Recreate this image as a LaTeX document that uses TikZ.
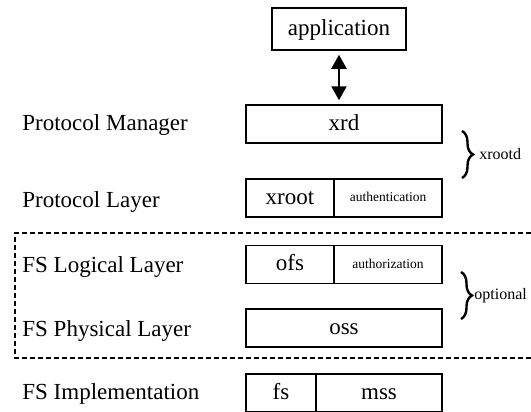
\documentclass[tikz,border=0pt]{standalone}
\usepackage{fontspec}
\setmainfont{Liberation Serif}
\usetikzlibrary{arrows.meta}
\usetikzlibrary{decorations.pathreplacing}

\begin{document}
\begin{tikzpicture}[x=0.5pt, y=-0.5pt]
\tikzstyle{box}=[draw, line width=0.75pt, minimum height=19pt, inner sep=0pt, text height=7.6pt, text depth=1.6pt, font=\fontsize{11.5}{13}\selectfont]
\tikzstyle{small}=[text height=4.6pt, text depth=1pt, font=\fontsize{6.75}{8}\selectfont]
\tikzstyle{layer}=[anchor=west, inner sep=0pt, font=\fontsize{11.5}{13}\selectfont]
\tikzstyle{group}=[decorate, decoration={brace, amplitude=5.5pt}, line width=1.2pt]
\useasboundingbox (0,0) rectangle (531,412);

\node[box, minimum width=67pt, minimum height=21pt] (app) at (339,29) {application};
\node[box, minimum width=98pt] (xrd) at (344,124) {xrd};
\node[box, minimum width=44pt] (xroot) at (290,198) {xroot};
\node[box, small, minimum width=54pt] (authen) at (388,198) {authentication};
\node[box, minimum width=44pt] (ofs) at (290,264.5) {ofs};
\node[box, small, minimum width=54pt] (authz) at (388,264.5) {authorization};
\node[box, minimum width=98pt] (oss) at (344,328) {oss};
\node[box, minimum width=35pt] (fs) at (281,393) {fs};
\node[box, minimum width=63pt] (mss) at (379,393) {mss};

\node[layer] (pm) at (22,125) {Protocol Manager};
\node[layer] (pl) at (22,202) {Protocol Layer};
\node[layer] (fsl) at (22,267) {FS Logical Layer};
\node[layer] (fsp) at (22,331) {FS Physical Layer};
\node[layer] (fsi) at (22,394) {FS Implementation};

% application <-> xrd
\draw[{Triangle[length=7pt,width=7.5pt]}-{Triangle[length=7pt,width=7.5pt]}, line width=1.1pt, shorten <=2pt, shorten >=2pt]
  (app.south) -- (app.south |- xrd.north);

% optional part
\coordinate (opt1) at (531,233);
\coordinate (opt2) at (531,358);
\draw[dashed, line width=0.75pt, dash pattern=on 2.5pt off 1.5pt] (opt1) -| (15,358) -- (opt2);

\draw[group] (462,131) -- (462,178);
\node[anchor=west, inner sep=0pt, font=\fontsize{8}{9}\selectfont] (xrootd) at (479,154) {xrootd};
\draw[group] (461,272) -- (461,319);
\node[anchor=west, inner sep=0pt, font=\fontsize{8}{9}\selectfont] (opt) at (474,296) {optional};
\end{tikzpicture}
\end{document}
